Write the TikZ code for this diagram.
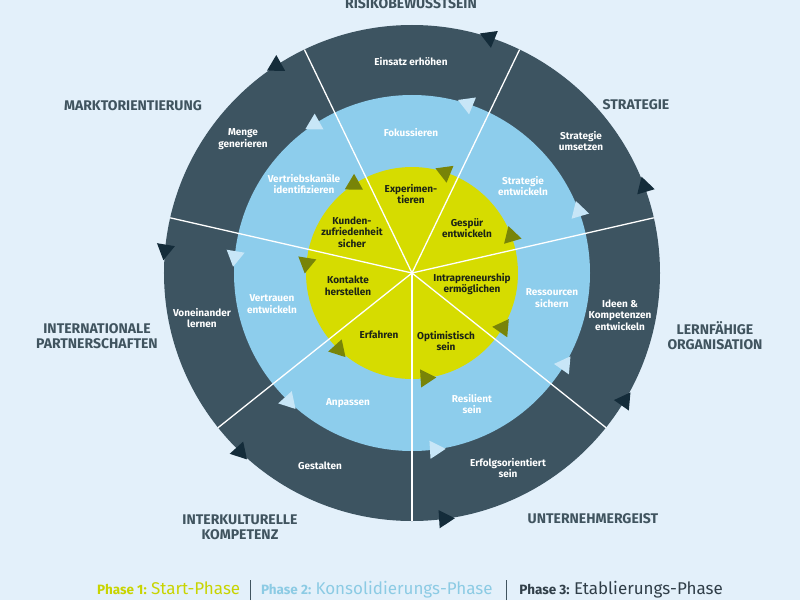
\documentclass[tikz,border=0pt]{standalone}
\usepackage{fontspec}
\setmainfont{Fira Sans}
\usepackage{tikz}
\usetikzlibrary{positioning}
\usepackage{xcolor}

\definecolor{bgblue}{RGB}{227,240,250}
\definecolor{ringdark}{RGB}{61,84,97}
\definecolor{arrowdark}{RGB}{20,44,58}
\definecolor{ringlight}{RGB}{141,205,236}
\definecolor{arrowlight}{RGB}{200,230,247}
\definecolor{ringyellow}{RGB}{214,220,0}
\definecolor{arrowyellow}{RGB}{120,132,8}
\definecolor{headtxt}{RGB}{64,84,95}
\definecolor{innertxt}{RGB}{28,36,22}
\definecolor{phaseone}{RGB}{200,212,0}
\definecolor{phasetwo}{RGB}{140,203,228}
\definecolor{phasethree}{RGB}{48,62,72}
\newcommand{\phsmall}{\bfseries\fontsize{13.5}{15}\selectfont}
\newcommand{\phbig}{\mdseries\fontsize{17}{19}\selectfont}

\tikzset{
    ringtxt/.style={font=\bfseries\fontsize{10}{11.5}\selectfont, align=center, inner sep=0pt},
    darklbl/.style={ringtxt, text=white},
    lightlbl/.style={ringtxt, text=white},
    yellowlbl/.style={ringtxt, text=innertxt},
    headlbl/.style={font=\bfseries\fontsize{14}{15}\selectfont, align=center, text=headtxt, inner sep=0pt},
    spoke/.style={white, line width=1.3pt},
    phaselbl/.style={inner sep=0pt},
    sepbar/.style={inner sep=0pt, text=headtxt}
}

\begin{document}
\begin{tikzpicture}[x=1pt,y=1pt]
    % Background
    \fill[bgblue] (-412,-327) rectangle (388,273);
    \useasboundingbox (-412,-327) rectangle (388,273);

    % Rings
    \fill[ringdark] (0,0) circle (248);
    \fill[ringlight] (0,0) circle (178);
    \fill[ringyellow] (0,0) circle (106);
    \foreach \k in {0,...,6}
        \draw[spoke] (0,0) -- (-90+\k*360/7:248);

    % Arrows
    \foreach \k [evaluate=\k as \b using -82.5+\k*360/7] in {0,...,6}{
        \fill[arrowdark, shift={(\b:248)}, rotate=\b-4] (90:10.5) -- (210:10.5) -- (330:10.5) -- cycle;
        \fill[arrowlight, shift={(\b:178)}, rotate=\b-4] (90:10.5) -- (210:10.5) -- (330:10.5) -- cycle;
        \fill[arrowyellow, shift={(\b:106)}, rotate=\b-4] (90:10.5) -- (210:10.5) -- (330:10.5) -- cycle;
    }

    % Outer ring
    \node[darklbl] (einsatz) at (-1,211) {Einsatz erhöhen};
    \node[darklbl] (menge) at (-169,134) {Menge\\generieren};
    \node[darklbl] (umsetzen) at (169,132) {Strategie\\umsetzen};
    \node[darklbl] (voneinander) at (-210,-45) {Voneinander\\lernen};
    \node[darklbl] (ideen) at (208,-42) {Ideen \&\\Kompetenzen\\entwickeln};
    \node[darklbl] (gestalten) at (-92,-193) {Gestalten};
    \node[darklbl] (erfolg) at (96,-195) {Erfolgsorientiert\\sein};

    % Middle ring
    \node[lightlbl] (fokus) at (-1,140) {Fokussieren};
    \node[lightlbl] (vertrieb) at (-108,89) {Vertriebskanäle\\identifizieren};
    \node[lightlbl] (strategie) at (111,87) {Strategie\\entwickeln};
    \node[lightlbl] (vertrauen) at (-140,-31) {Vertrauen\\entwickeln};
    \node[lightlbl] (ressourcen) at (140,-25) {Ressourcen\\sichern};
    \node[lightlbl] (anpassen) at (-64,-130) {Anpassen};
    \node[lightlbl] (resilient) at (60,-131) {Resilient\\sein};

    % Inner circle
    \node[yellowlbl] (experiment) at (-1,79) {Experimen-\\tieren};
    \node[yellowlbl] (kunden) at (-60,41) {Kunden-\\zufriedenheit\\sicher};
    \node[yellowlbl] (gespuer) at (55,45) {Gespür\\entwickeln};
    \node[yellowlbl] (kontakte) at (-64,-13) {Kontakte\\herstellen};
    \node[yellowlbl] (intra) at (60,-11) {Intrapreneurship\\ermöglichen};
    \node[yellowlbl] (erfahren) at (-33,-62) {Erfahren};
    \node[yellowlbl] (optimist) at (34,-68) {Optimistisch\\sein};

    % Headings
    \node[headlbl] (risiko) at (-1,269) {RISIKOBEWUSSTSEIN};
    \node[headlbl] (markt) at (-279,167) {MARKTORIENTIERUNG};
    \node[headlbl] (strat) at (224,168) {STRATEGIE};
    \node[headlbl] (intern) at (-315,-63) {INTERNATIONALE\\PARTNERSCHAFTEN};
    \node[headlbl] (lern) at (303,-63) {LERNFÄHIGE\\ORGANISATION};
    \node[headlbl] (interk) at (-172,-254) {INTERKULTURELLE\\KOMPETENZ};
    \node[headlbl] (untern) at (181,-246) {UNTERNEHMERGEIST};

    % Legend
    \node[phaselbl, text=phaseone, anchor=base west] (phA) at (-315,-321) {\phsmall Phase 1: \phbig Start-Phase};
    \node[sepbar, base right=9pt of phA] (sepA) {\rule[-6pt]{0.7pt}{20pt}};
    \node[phaselbl, text=phasetwo, base right=10pt of sepA] (phB) {\phsmall Phase 2: \phbig Konsolidierungs-Phase};
    \node[sepbar, base right=13pt of phB] (sepB) {\rule[-6pt]{0.7pt}{20pt}};
    \node[phaselbl, text=phasethree, base right=12pt of sepB] (phC) {\phsmall Phase 3: \phbig Etablierungs-Phase};
\end{tikzpicture}
\end{document}
